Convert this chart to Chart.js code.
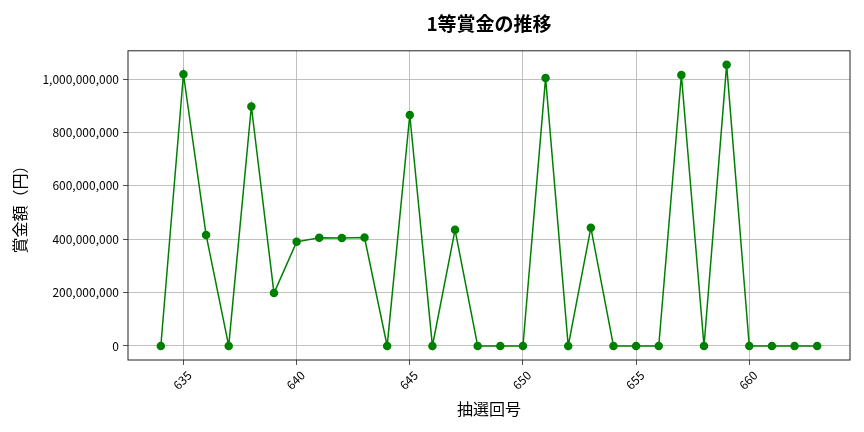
<!DOCTYPE html>
<html>
<head>
<meta charset="utf-8">
<style>
  html, body { margin: 0; padding: 0; background: #ffffff; }
  #wrap { width: 864px; height: 432px; }
</style>
</head>
<body>
<div id="wrap"><canvas id="prize"></canvas></div>
<script src="https://cdn.jsdelivr.net/npm/chart.js"></script>
<script>
  // draw number and 1st prize amount (yen)
  const draws = [634, 635, 636, 637, 638, 639, 640, 641, 642, 643, 644, 645, 646, 647, 648,
                 649, 650, 651, 652, 653, 654, 655, 656, 657, 658, 659, 660, 661, 662, 663];
  const prizes = [0, 1018000000, 416000000, 0, 897000000, 198000000, 390000000, 405000000,
                  404000000, 406000000, 0, 865000000, 0, 435000000, 0,
                  0, 0, 1004000000, 0, 443000000, 0, 0, 0, 1015000000, 0,
                  1053000000, 0, 0, 0, 0];
  const xTicks = [635, 640, 645, 650, 655, 660];
  const yTicks = [0, 200000000, 400000000, 600000000, 800000000, 1000000000];

  const jp = "'Noto Sans CJK JP', 'Noto Sans', sans-serif";

  // matplotlib-like 5% margins
  const xSpan = draws[draws.length - 1] - draws[0];
  const yMax = Math.max(...prizes);

  const frame = {
    id: 'frame',
    afterDraw(chart) {
      const { ctx, chartArea: a } = chart;
      ctx.save();
      ctx.strokeStyle = '#222';
      ctx.lineWidth = 1;
      ctx.strokeRect(a.left, a.top, a.right - a.left, a.bottom - a.top);
      ctx.restore();
    }
  };

  new Chart(document.getElementById('prize').getContext('2d'), {
    type: 'line',
    data: {
      datasets: [{
        data: draws.map((d, i) => ({ x: d, y: prizes[i] })),
        borderColor: '#008000',
        backgroundColor: '#008000',
        borderWidth: 1.5,
        pointRadius: 3.5,
        pointHoverRadius: 3.5,
        fill: false,
        tension: 0
      }]
    },
    options: {
      responsive: true,
      maintainAspectRatio: false,
      animation: false,
      layout: { padding: { left: 0, right: 14, top: 0, bottom: 0 } },
      plugins: {
        legend: { display: false },
        tooltip: { enabled: false },
        title: {
          display: true,
          fullSize: false,
          text: '1等賞金の推移',
          color: '#000',
          font: { family: jp, size: 19, weight: 'bold' },
          padding: { top: 12, bottom: 16 }
        }
      },
      scales: {
        x: {
          type: 'linear',
          min: draws[0] - xSpan * 0.05,
          max: draws[draws.length - 1] + xSpan * 0.05,
          afterBuildTicks: (s) => { s.ticks = xTicks.map(v => ({ value: v })); },
          afterFit: (s) => { s.height = 72; },
          border: { display: false },
          grid: { color: '#b0b0b0', lineWidth: 0.8, tickColor: '#222', tickLength: 5 },
          ticks: {
            color: '#000',
            font: { family: jp, size: 12 },
            minRotation: 45,
            maxRotation: 45,
            autoSkip: false,
            padding: 3,
            labelOffset: 6
          },
          title: {
            display: true,
            text: '抽選回号',
            color: '#000',
            font: { family: jp, size: 16 },
            padding: { top: 0, bottom: 13 }
          }
        },
        y: {
          min: -yMax * 0.05,
          max: yMax * 1.05,
          afterBuildTicks: (s) => { s.ticks = yTicks.map(v => ({ value: v })); },
          afterFit: (s) => { s.width = 128; },
          border: { display: false },
          grid: { color: '#b0b0b0', lineWidth: 0.8, tickColor: '#222', tickLength: 5 },
          ticks: {
            color: '#000',
            font: { family: jp, size: 12 },
            padding: 4,
            callback: (v) => v.toLocaleString('en-US')
          },
          title: {
            display: true,
            text: '賞金額（円）',
            color: '#000',
            font: { family: jp, size: 16 },
            padding: { top: 10, bottom: 0 }
          }
        }
      }
    },
    plugins: [frame]
  });
</script>
</body>
</html>
